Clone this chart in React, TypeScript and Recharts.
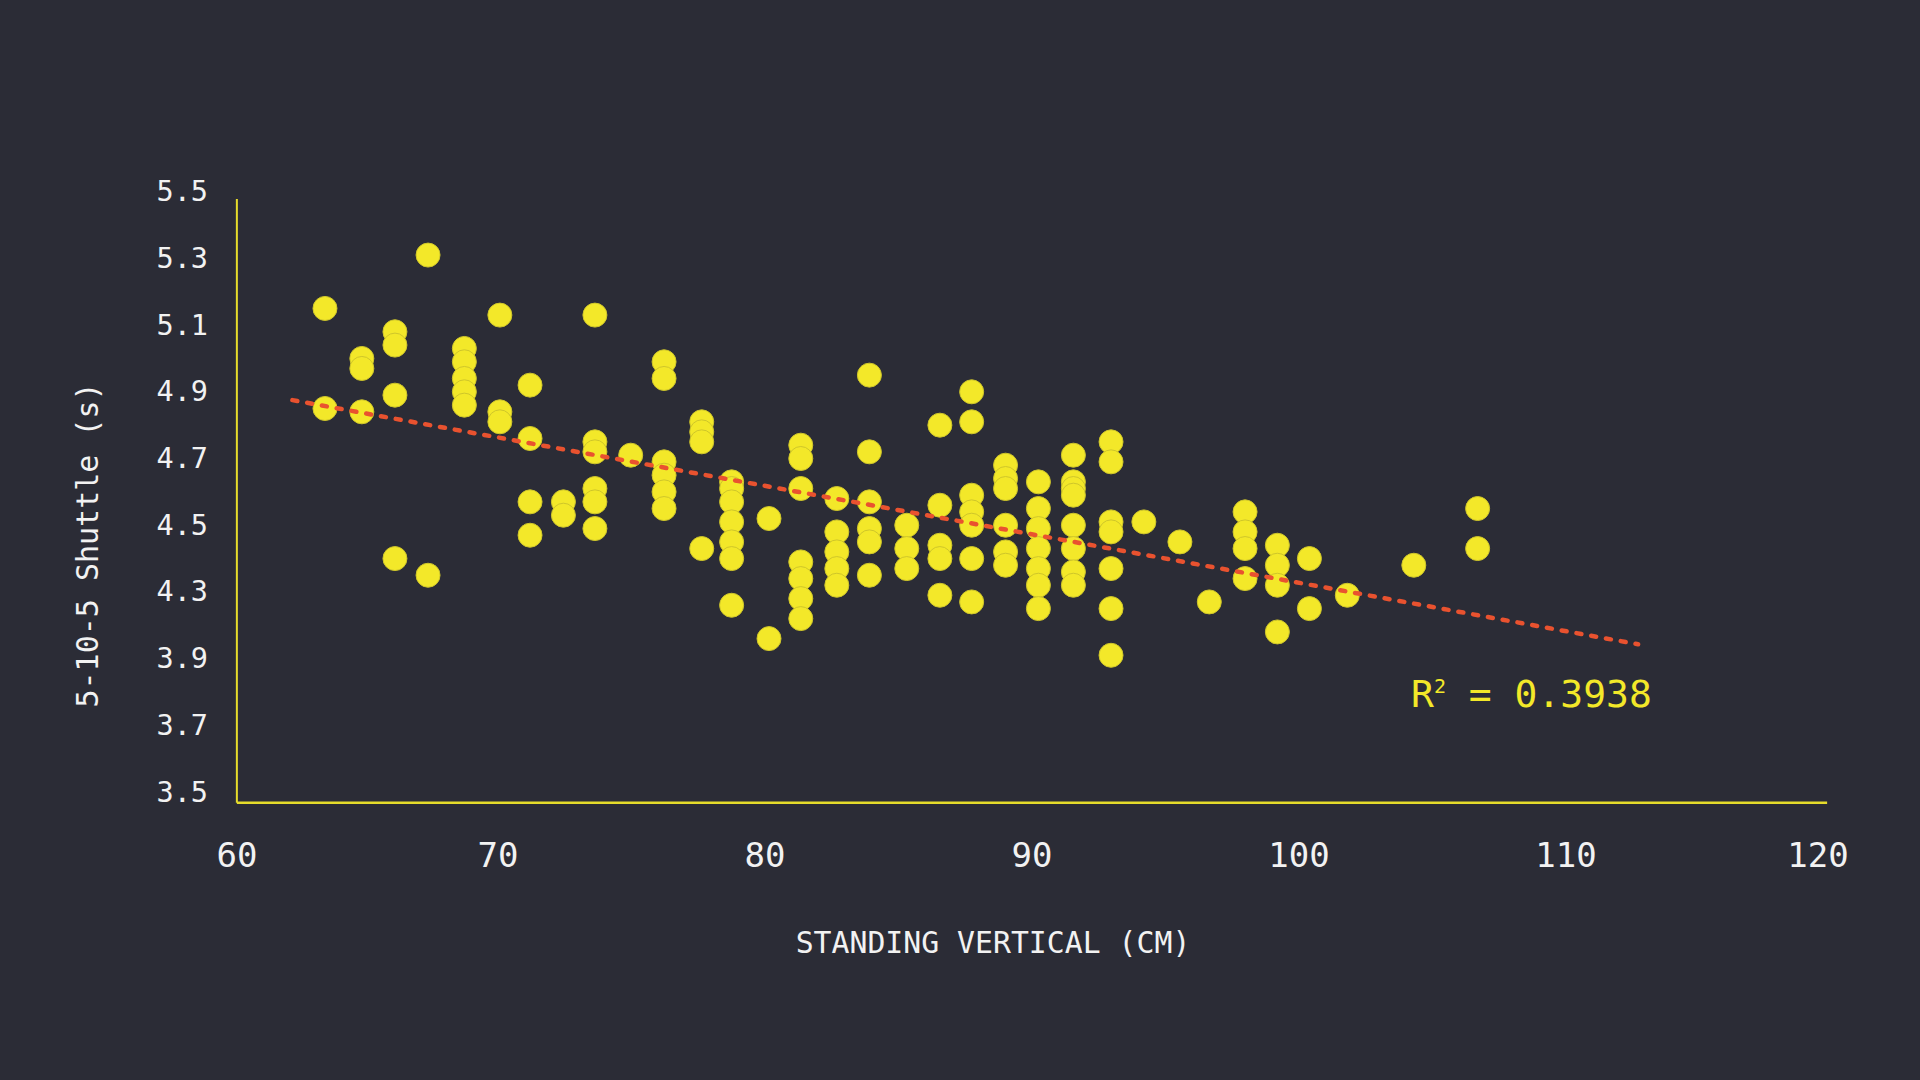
import React from "react";
import { ScatterChart, Scatter, XAxis, YAxis, ReferenceLine } from "recharts";

// standing vertical (cm), one entry per column of dots
const verticalCm = [
  63.52, 64.9, 66.14, 67.38, 68.74, 70.07, 71.2, 72.45, 73.63, 74.97, 76.22,
  77.63, 78.75, 80.15, 81.34, 82.69, 83.91, 85.31, 86.55, 87.74, 89.01, 90.24,
  91.55, 92.96, 94.19, 95.54, 96.64, 97.98, 99.19, 100.39, 101.81, 104.3, 106.69,
];

// 5-10-5 shuttle times (s) recorded at each vertical above
const shuttleSec = [
  [5.15, 4.85],
  [5.0, 4.97, 4.84],
  [5.08, 5.04, 4.89, 4.4],
  [5.31, 4.35],
  [5.03, 4.99, 4.94, 4.9, 4.86],
  [5.13, 4.84, 4.81],
  [4.92, 4.76, 4.57, 4.47],
  [4.57, 4.53],
  [5.13, 4.75, 4.72, 4.61, 4.57, 4.49],
  [4.71],
  [4.99, 4.94, 4.69, 4.65, 4.6, 4.55],
  [4.81, 4.78, 4.75, 4.43],
  [4.63, 4.61, 4.57, 4.51, 4.45, 4.4, 4.26],
  [4.52, 4.16],
  [4.74, 4.7, 4.61, 4.39, 4.34, 4.28, 4.22],
  [4.58, 4.48, 4.42, 4.37, 4.32],
  [4.95, 4.72, 4.57, 4.49, 4.45, 4.35],
  [4.5, 4.43, 4.37],
  [4.8, 4.56, 4.44, 4.4, 4.29],
  [4.9, 4.81, 4.59, 4.54, 4.5, 4.4, 4.27],
  [4.68, 4.64, 4.61, 4.5, 4.42, 4.38],
  [4.63, 4.55, 4.49, 4.43, 4.37, 4.32, 4.25],
  [4.71, 4.63, 4.61, 4.59, 4.5, 4.43, 4.36, 4.32],
  [4.75, 4.69, 4.51, 4.48, 4.37, 4.25, 4.11],
  [4.51],
  [4.45],
  [4.27],
  [4.54, 4.48, 4.43, 4.34],
  [4.44, 4.38, 4.32, 4.18],
  [4.4, 4.25],
  [4.29],
  [4.38],
  [4.55, 4.43],
];

// least squares trend, drawn between its two ends
const trendX = [62.3, 112.7];
const trendY = [4.875, 4.143];
const rSquared = "0.3938";

const xTicks = [60, 70, 80, 90, 100, 110, 120];
const yTicks = [5.5, 5.3, 5.1, 4.9, 4.7, 4.5, 4.3, 4.1, 3.9, 3.7];
const yTickLabels = ["5.5", "5.3", "5.1", "4.9", "4.7", "4.5", "4.3", "3.9", "3.7", "3.5"];

const BG = "#2b2c36";
const YELLOW = "#f3e829";
const AXIS = "#e6dc2b";
const RED = "#e9522f";
const TEXT = "#f2f2f2";
const MONO = "'DejaVu Sans Mono', 'Liberation Mono', monospace";

const points = verticalCm.flatMap((x, i) => shuttleSec[i].map((y) => ({ x, y })));
const trend = trendX.map((x, i) => ({ x, y: trendY[i] }));

const Dot = (props: any) => (
  <circle cx={props.cx} cy={props.cy} r={12} fill={YELLOW} stroke="#cfc62a" strokeWidth={1} />
);

const XTick = ({ x, y, payload }: any) => {
  const i = xTicks.indexOf(payload.value);
  const nudge = i === 0 ? 6 : i === xTicks.length - 1 ? -15 : 0;
  return (
    <text
      x={x + nudge}
      y={y + 52}
      textAnchor="middle"
      dominantBaseline="central"
      fill={TEXT}
      fontSize={34}
      fontFamily={MONO}
    >
      {payload.value}
    </text>
  );
};

const YTick = ({ x, y, payload }: any) => {
  const i = yTicks.findIndex((t) => Math.abs(t - payload.value) < 0.001);
  return (
    <text
      x={x - 23}
      y={y}
      textAnchor="end"
      dominantBaseline="central"
      fill={TEXT}
      fontSize={28.5}
      fontFamily={MONO}
    >
      {yTickLabels[i]}
    </text>
  );
};

export default function App() {
  return (
    <div
      style={{
        position: "fixed",
        left: 0,
        top: 0,
        width: 1920,
        height: 1080,
        background: BG,
        overflow: "hidden",
      }}
    >
      <ScatterChart
        width={1920}
        height={1080}
        margin={{ top: 191.7, right: 87, bottom: 177.3, left: 131 }}
      >
        <XAxis
          type="number"
          dataKey="x"
          domain={[60, 120]}
          ticks={xTicks}
          interval={0}
          height={100}
          axisLine={false}
          tickLine={false}
          tickSize={0}
          tickMargin={0}
          tick={<XTick />}
        />
        <YAxis
          type="number"
          dataKey="y"
          domain={[3.668, 5.5]}
          ticks={yTicks}
          interval={0}
          width={100}
          axisLine={false}
          tickLine={false}
          tickSize={0}
          tickMargin={0}
          tick={<YTick />}
        />
        <ReferenceLine
          segment={[
            { x: 60.22, y: 3.668 },
            { x: 60.22, y: 5.478 },
          ]}
          stroke={AXIS}
          strokeWidth={2}
        />
        <ReferenceLine
          segment={[
            { x: 60.22, y: 3.668 },
            { x: 119.78, y: 3.668 },
          ]}
          stroke={AXIS}
          strokeWidth={2.5}
        />
        <Scatter data={points} shape={<Dot />} isAnimationActive={false} />
        <Scatter
          data={trend}
          line={{ stroke: RED, strokeWidth: 4.5, strokeDasharray: "5 10", strokeLinecap: "round" }}
          shape={() => <g />}
          isAnimationActive={false}
        />
      </ScatterChart>
      <svg
        width={1920}
        height={1080}
        style={{ position: "absolute", left: 0, top: 0, pointerEvents: "none" }}
      >
        <text
          x={993}
          y={953}
          textAnchor="middle"
          fill={TEXT}
          fontSize={29.8}
          fontFamily={MONO}
        >
          STANDING VERTICAL (CM)
        </text>
        <text
          transform="translate(98,545) rotate(-90)"
          textAnchor="middle"
          fill={TEXT}
          fontSize={30}
          fontFamily={MONO}
        >
          5-10-5 Shuttle (s)
        </text>
        <text x={1411} y={707} fill={YELLOW} fontSize={38} fontFamily={MONO}>
          R
          <tspan fontSize={20} dy={-14}>
            2
          </tspan>
          <tspan dy={14}>{" = " + rSquared}</tspan>
        </text>
      </svg>
    </div>
  );
}
